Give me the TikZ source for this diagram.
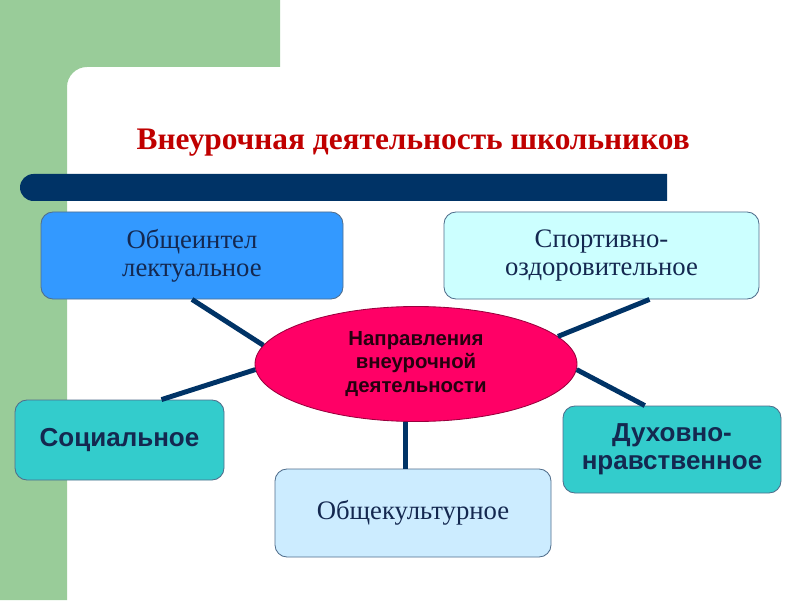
\documentclass[tikz,border=0pt]{standalone}
\usepackage{fontspec}
\setmainfont{Liberation Serif}
\setsansfont{Liberation Sans}
\usetikzlibrary{shapes.geometric}
\definecolor{bggreen}{RGB}{153,204,153}
\definecolor{barblue}{RGB}{0,51,102}
\definecolor{titlered}{RGB}{192,0,0}
\definecolor{boxblue}{RGB}{51,153,255}
\definecolor{boxcyan}{RGB}{204,255,255}
\definecolor{boxteal}{RGB}{51,204,204}
\definecolor{boxsky}{RGB}{204,236,255}
\definecolor{boxline}{RGB}{80,110,140}
\definecolor{ellred}{RGB}{255,0,102}
\definecolor{textnavy}{RGB}{20,40,80}

\begin{document}
\begin{tikzpicture}[
  box/.style={draw=boxline, line width=0.6pt, rounded corners=0.3cm,
    align=center, inner sep=0pt, text=textnavy},
  serifbox/.style={box, font=\fontsize{19}{20}\selectfont},
  sansbox/.style={box, font=\sffamily\bfseries\fontsize{18.5}{20}\selectfont},
  link/.style={draw=barblue, line width=3.5pt}]
  \useasboundingbox (0,0) rectangle (20,15);
  \fill[white] (0,0) rectangle (20,15);
  \fill[bggreen] (0,0) -- (1.675,0) -- (1.675,12.825) arc (180:90:0.5)
    -- (7,13.325) -- (7,15) -- (0,15) -- cycle;
  \fill[barblue] (16.675,9.975) -- (0.8375,9.975) arc (270:90:0.3375)
    -- (16.675,10.65) -- cycle;
  \node[text=titlered, font=\bfseries\fontsize{22.3}{26}\selectfont] (title)
    at (10.33,11.425) {Внеурочная деятельность школьников};

  \node[serifbox, fill=boxblue, minimum width=7.55cm, minimum height=2.175cm]
    (obsh) at (4.8,8.6125) {Общеинтел\\лектуальное};
  \node[serifbox, fill=boxcyan, minimum width=7.875cm, minimum height=2.175cm]
    (sport) at (15.0375,8.6125) {Спортивно-\\оздоровительное};
  \node[ellipse, draw=ellred!60!black, line width=0.6pt, fill=ellred,
    minimum width=8.05cm, minimum height=2.875cm, inner sep=0pt, align=center,
    text=black!85!ellred, font=\sffamily\bfseries\fontsize{14.5}{16.9}\selectfont]
    (ell) at (10.4,5.9) {Направления\\внеурочной\\деятельности};
  \node[sansbox, fill=boxteal, minimum width=5.225cm, minimum height=2cm]
    (soc) at (2.9875,4) {Социальное};
  \node[serifbox, fill=boxsky, minimum width=6.9cm, minimum height=2.2cm]
    (kult) at (10.325,2.175) {Общекультурное};
  \node[sansbox, fill=boxteal, minimum width=5.45cm, minimum height=2.175cm]
    (duh) at (16.8,3.7625) {Духовно-\\нравственное};

  \draw[link] (obsh.south) -- (ell.173);
  \draw[link] ([xshift=1.05cm]soc.north) -- (ell.182);
  \draw[link] ([xshift=1.2cm]sport.south) -- (ell.11);
  \draw[link] ([xshift=-0.68cm]duh.north) -- (ell.-2);
  \draw[link] (ell.260) -- (ell.260 |- kult.north);
\end{tikzpicture}
\end{document}
